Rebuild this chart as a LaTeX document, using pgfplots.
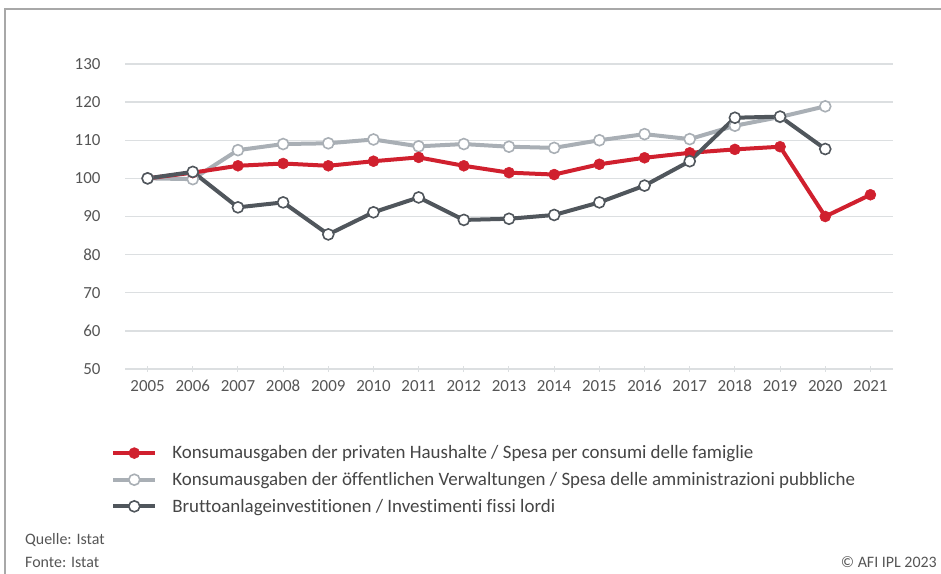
\documentclass[border=0pt]{standalone}
\usepackage{fontspec}
\setmainfont[Ligatures=NoCommon]{Carlito}
\usepackage{pgfplots}
\pgfplotsset{compat=1.18}
\definecolor{cred}{HTML}{D0202E}
\definecolor{clight}{HTML}{A9AFB5}
\definecolor{cdark}{HTML}{50565C}
\definecolor{cgrid}{HTML}{DCDFE1}
\definecolor{ctext}{HTML}{555555}
\definecolor{clegtext}{HTML}{454545}
\definecolor{cframe}{HTML}{A8A8A8}
\begin{document}
\begin{tikzpicture}[x=1bp,y=1bp]
\path[use as bounding box] (0,0) rectangle (941,574);
\draw[line width=1.5bp, color=cframe] (5,0) -- (5,565) -- (941,565);
\begin{axis}[
  at={(125bp,205bp)}, anchor=south west, scale only axis,
  width=768bp, height=305bp,
  xmin=2004.5, xmax=2021.5, ymin=50, ymax=130,
  xtick={2005,...,2021}, ytick={50,60,...,130},
  /pgf/number format/1000 sep={},
  /pgf/number format/assume math mode=true,
  axis line style={draw=none},
  ymajorgrids, grid style={cgrid, line width=1.3bp},
  xtick pos=bottom, ytick pos=left,
  tick align=center, major tick length=6bp,
  xtick style={cgrid, line width=1bp},
  ytick style={draw=none},
  tick label style={font=\fontsize{17}{20}\selectfont, text=ctext},
  yticklabel style={xshift=-18bp},
  xticklabel style={yshift=-4bp, text height=11.5bp, text depth=0bp},
  clip=false,
  legend style={at={(rel axis cs:-0.022,-0.238)}, anchor=north west,
    draw=none, fill=none, font=\fontsize{19}{22}\selectfont, text=clegtext,
    row sep=8bp, cells={anchor=west}},
  legend image code/.code={\draw[mark repeat=2,mark phase=2,#1] plot coordinates {(0bp,0bp) (21bp,0bp) (42bp,0bp)};\path (55bp,0bp);},
]
% public consumption (drawn first, below)
\addplot[clight, line width=4bp, mark=*, mark size=5.5bp, mark options={fill=white, draw=clight, line width=1.6bp}, forget plot] coordinates {
(2005,100) (2006,99.8) (2007,107.4) (2008,109.0) (2009,109.2) (2010,110.2) (2011,108.4) (2012,109.0) (2013,108.3) (2014,108.0) (2015,110.0) (2016,111.6) (2017,110.3) (2018,113.8) (2019,116.1) (2020,118.9)};
% private consumption
\addplot[cred, line width=4bp, mark=*, mark size=5.5bp, mark options={fill=cred, draw=cred, line width=0.5bp}] coordinates {
(2005,100) (2006,101.5) (2007,103.3) (2008,103.9) (2009,103.3) (2010,104.5) (2011,105.5) (2012,103.3) (2013,101.5) (2014,101.0) (2015,103.7) (2016,105.4) (2017,106.7) (2018,107.6) (2019,108.3) (2020,90.0) (2021,95.7)};
\addlegendentry{Konsumausgaben der privaten Haushalte / Spesa per consumi delle famiglie}
\addlegendimage{clight, line width=4bp, mark=*, mark size=5.5bp, mark options={fill=white, draw=clight, line width=1.6bp}}
\addlegendentry{Konsumausgaben der öffentlichen Verwaltungen / Spesa delle amministrazioni pubbliche}
% investments
\addplot[cdark, line width=4bp, mark=*, mark size=5.5bp, mark options={fill=white, draw=cdark, line width=1.6bp}] coordinates {
(2005,100) (2006,101.7) (2007,92.4) (2008,93.7) (2009,85.3) (2010,91.1) (2011,95.0) (2012,89.1) (2013,89.4) (2014,90.4) (2015,93.7) (2016,98.1) (2017,104.5) (2018,115.9) (2019,116.2) (2020,107.7)};
\addlegendentry{Bruttoanlageinvestitionen / Investimenti fissi lordi}
\end{axis}
\node[anchor=west, text=ctext, font=\fontsize{16}{19}\selectfont, inner sep=0pt] at (25,34) {Quelle: Istat};
\node[anchor=west, text=ctext, font=\fontsize{16}{19}\selectfont, inner sep=0pt] at (25,12) {Fonte: Istat};
\node[anchor=east, text=ctext, font=\fontsize{16}{19}\selectfont, inner sep=0pt] at (937,12) {© AFI IPL 2023};
\end{tikzpicture}
\end{document}
